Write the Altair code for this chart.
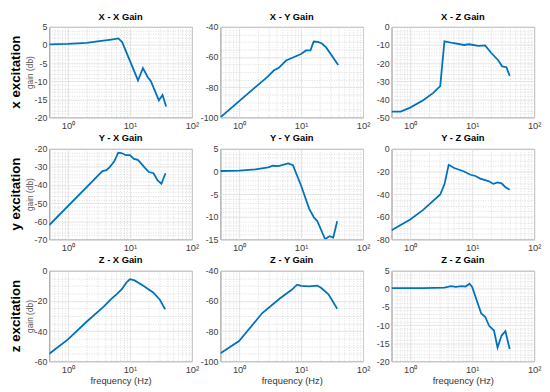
import altair as alt
import pandas as pd

FONT = "Liberation Sans"

# ---- data (frequency in Hz, gain in dB) ----
XX_F = [0.5, 1, 2, 3, 5, 6.5, 7.5, 13.5, 16.2, 19.4, 21.8, 29.3, 33.6, 38.4]
XX_G = [0.2, 0.3, 0.6, 1.0, 1.5, 1.8, 0.8, -9.8, -6.4, -8.9, -10, -15.3, -13.8, -17]

XY_F = [0.5, 2.87, 3.66, 4.38, 5.73, 7.57, 10, 12, 14.2, 16, 18.8, 21.7, 25.4, 39.8]
XY_G = [-100, -73.1, -68.8, -67.1, -62.3, -60.1, -58, -55.6, -55.6, -49.7, -50, -51, -53.6, -65.3]

XZ_F = [0.5, 0.7, 1, 1.62, 2.33, 3.05, 3.57, 4.83, 7.4, 8.86, 12.7, 16.2, 20.2, 26.3, 30.5, 35.7, 40.3]
XZ_G = [-46.8, -46.8, -44.6, -40.5, -36.6, -32.7, -8.0, -8.9, -10.0, -9.6, -10.5, -10.2, -14.3, -18.4, -21.8, -22.3, -27.1]

YX_F = [0.5, 3.6, 4.16, 4.68, 5.57, 6.49, 7.3, 8.6, 10, 11.6, 13.4, 15, 16.9, 20.2, 24, 28, 32.2, 37.5]
YX_G = [-62.1, -32.3, -31.8, -30.2, -27, -22.1, -22.3, -23.5, -23.5, -25.6, -26.1, -27.9, -30, -32.8, -33.5, -37.5, -39.3, -33.5]

YY_F = [0.5, 1, 1.86, 2.94, 3.52, 4.3, 6.2, 7.4, 10, 13.5, 16.2, 18.2, 24.5, 28.7, 33.1, 38.3]
YY_G = [0.1, 0.18, 0.47, 0.9, 1.26, 1.2, 1.76, 1.4, -3.1, -8.2, -10.2, -10.9, -15, -14.3, -14.6, -11]

YZ_F = [0.5, 1, 1.62, 3.05, 3.57, 4.18, 5.13, 7.4, 9.4, 11.3, 13.5, 18.3, 22, 25.7, 29.8, 34.5, 40.3]
YZ_G = [-72, -62.4, -54, -40.4, -31.4, -14.1, -17, -20, -22.9, -24, -26.3, -28.5, -31, -29.7, -30.5, -33.9, -36.2]

ZX_F = [0.5, 1, 2.06, 3.7, 4.96, 6.26, 7.47, 8.9, 10, 11.9, 16.9, 24, 30.4, 37]
ZX_G = [-55, -45.5, -33.3, -24.1, -18.8, -15.2, -12, -7.5, -5.6, -6.4, -10.3, -14.5, -19.2, -25.6]

ZY_F = [0.5, 1, 2.37, 4.59, 6.98, 8.66, 10, 13.5, 18.2, 21, 27.7, 38.3]
ZY_G = [-94.7, -86.6, -68, -58.2, -52.8, -49.2, -50, -50.3, -49.8, -51.3, -55.6, -65.2]

ZZ_F = [0.5, 1.62, 3.57, 4.55, 5.45, 6.8, 7.85, 9.07, 10, 14, 16.2, 18.8, 22.5, 25.7, 29.8, 34.4, 40.3]
ZZ_G = [0.2, 0.2, 0.37, 0.73, 0.55, 0.73, 0.64, 1.44, 0.55, -6.8, -7.7, -10.2, -11.5, -16.2, -12.9, -11.7, -16.6]

TITLES = ["X - X Gain", "X - Y Gain", "X - Z Gain",
          "Y - X Gain", "Y - Y Gain", "Y - Z Gain",
          "Z - X Gain", "Z - Y Gain", "Z - Z Gain"]
SERIES = [(XX_F, XX_G), (XY_F, XY_G), (XZ_F, XZ_G),
          (YX_F, YX_G), (YY_F, YY_G), (YZ_F, YZ_G),
          (ZX_F, ZX_G), (ZY_F, ZY_G), (ZZ_F, ZZ_G)]
# y axis: (min, max, major step, minor step)
Y_AXES = [(-20, 5, 5, 1), (-100, -40, 20, 5), (-50, 0, 10, 2),
          (-70, -20, 10, 2), (-15, 5, 5, 1), (-80, 0, 20, 5),
          (-60, 0, 20, 5), (-100, -40, 20, 5), (-20, 5, 5, 1)]
ROW_LABELS = ["x excitation", "y excitation", "z excitation"]
X_TICKS = [0.5, 0.6, 0.7, 0.8, 0.9, 1, 2, 3, 4, 5, 6, 7, 8, 9,
           10, 20, 30, 40, 50, 60, 70, 80, 90, 100]
X_MAJOR = [1, 10, 100]
X_LABELS = ["10⁰", "10¹", "10²"]

W, H = 145, 92
LINE_COLOR = "#0072BD"
LABEL_COLOR = "#404040"
MAJOR_GRID = "#dcdcdc"
MINOR_GRID = "#c4c4c4"

x_label_expr = " : ".join(
    f"datum.value == {v} ? '{t}'" for v, t in zip(X_MAJOR, X_LABELS)) + " : ''"
x_major_test = "indexof([" + ",".join(str(v) for v in X_MAJOR) + "], datum.value) < 0"


def panel(i):
    row, col = divmod(i, 3)
    f, g = SERIES[i]
    ymin, ymax, ymaj, ymin_step = Y_AXES[i]
    df = pd.DataFrame({"f": f, "g": g})
    yvals = list(range(ymin, ymax + 1, ymin_step))
    y_minor_test = f"datum.value % {ymaj} != 0"

    xaxis_kwargs = dict(
        values=X_TICKS, labelExpr=x_label_expr, grid=True,
        gridDash={"condition": {"test": x_major_test, "value": [1, 1.5]}, "value": []},
        gridColor={"condition": {"test": x_major_test, "value": MINOR_GRID}, "value": MAJOR_GRID},
        gridWidth={"condition": {"test": x_major_test, "value": 0.6}, "value": 0.8},
        ticks=False, domain=False, labelFlush=False, labelOverlap=False,
        labelPadding=3, labelFontSize=9.5, labelColor=LABEL_COLOR, labelFont=FONT,
        titleFontSize=9.5, titleFont=FONT, titleFontWeight="normal",
        titleColor="#333333", titlePadding=2,
    )
    if row == 2:
        xaxis_kwargs["title"] = "frequency (Hz)"
    else:
        xaxis_kwargs["title"] = None

    yaxis_kwargs = dict(
        values=yvals,
        labelExpr=f"datum.value % {ymaj} == 0 ? '' + datum.value : ''",
        grid=True,
        gridDash={"condition": {"test": y_minor_test, "value": [1, 1.5]}, "value": []},
        gridColor={"condition": {"test": y_minor_test, "value": MINOR_GRID}, "value": MAJOR_GRID},
        gridWidth={"condition": {"test": y_minor_test, "value": 0.6}, "value": 0.8},
        ticks=False, domain=False, labelFlush=False, labelOverlap=False,
        labelPadding=2.5, labelFontSize=9, labelColor=LABEL_COLOR, labelFont=FONT,
        titleFontSize=8.5, titleFont=FONT, titleFontWeight="normal",
        titleColor="#555555", titlePadding=0,
    )
    if col == 0:
        yaxis_kwargs["title"] = "gain (db)"
    else:
        yaxis_kwargs["title"] = None

    line = alt.Chart(df).mark_line(color=LINE_COLOR, strokeWidth=1.8, clip=True).encode(
        x=alt.X("f:Q", scale=alt.Scale(type="log", domain=[0.5, 100], nice=False),
                axis=alt.Axis(**xaxis_kwargs)),
        y=alt.Y("g:Q", scale=alt.Scale(domain=[ymin, ymax], nice=False, zero=False),
                axis=alt.Axis(**yaxis_kwargs)),
        order=alt.Order("f:Q"),
    )
    layers = [line]
    if col == 0:
        lab = alt.Chart(pd.DataFrame({"t": [ROW_LABELS[row]]})).mark_text(
            angle=270, fontSize=13.5, fontWeight="bold", font=FONT, color="black",
            align="center", baseline="bottom",
        ).encode(x=alt.value(-27), y=alt.value(H / 2), text="t:N")
        layers.append(lab)
    return alt.layer(*layers).properties(
        width=W, height=H,
        title=alt.Title(TITLES[i], fontSize=9.5, fontWeight="bold", font=FONT,
                        color="black", offset=2),
    )


chart = alt.concat(
    *[panel(i) for i in range(9)], columns=3, bounds="flush",
    spacing={"row": 32, "column": 29},
).properties(padding=0).configure_view(
    stroke="#8a8a8a", strokeWidth=1
)

chart.save("out.html", embed_options={"renderer": "svg", "actions": False})
